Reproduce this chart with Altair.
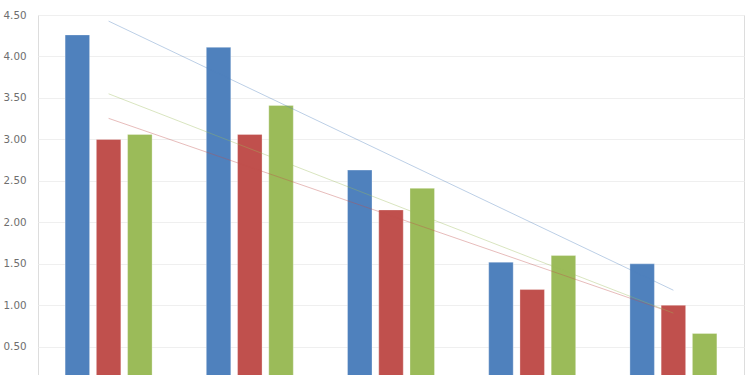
import altair as alt
import pandas as pd

categories = ["1", "2", "3", "4", "5"]
series_names = ["Series1", "Series2", "Series3"]
series1 = [4.26, 4.11, 2.63, 1.52, 1.50]
series2 = [3.00, 3.06, 2.15, 1.19, 1.00]
series3 = [3.06, 3.41, 2.41, 1.60, 0.66]
colors = ["#4F81BD", "#C0504D", "#9BBB59"]
y_ticks = [0.5, 1.0, 1.5, 2.0, 2.5, 3.0, 3.5, 4.0, 4.5]

rows = []
for name, vals in zip(series_names, [series1, series2, series3]):
    for i, (c, v) in enumerate(zip(categories, vals)):
        rows.append({"cat": c, "idx": i + 1, "series": name, "value": v})
df = pd.DataFrame(rows)

xscale = alt.Scale(domain=categories, paddingInner=0.384, paddingOuter=0.192)
yscale = alt.Scale(domain=[0.16, 4.5], zero=False, nice=False)
cscale = alt.Scale(domain=series_names, range=colors)

base = alt.Chart(df)

bars = base.mark_bar(clip=True, stroke="white", strokeWidth=0.6, strokeOpacity=0.5).encode(
    x=alt.X("cat:N", scale=xscale, axis=None, sort=categories),
    xOffset=alt.XOffset("series:N", scale=alt.Scale(domain=series_names, paddingInner=0.216, paddingOuter=0)),
    y=alt.Y("value:Q", scale=yscale,
            axis=alt.Axis(values=y_ticks, format=".2f", title=None, domain=False, ticks=False,
                          labelPadding=12, labelFont="DejaVu Sans", labelFontSize=10.3,
                          labelColor="#6e6e6e", gridColor="#efefef", gridWidth=1)),
    color=alt.Color("series:N", scale=cscale, legend=None),
)

trend = base.transform_regression(
    "idx", "value", groupby=["series"], method="linear"
).transform_calculate(
    cat="toString(datum.idx)"
).mark_line(strokeWidth=1, opacity=0.38, clip=True).encode(
    x=alt.X("cat:N", scale=xscale, axis=None, sort=categories),
    y=alt.Y("value:Q", scale=yscale),
    color=alt.Color("series:N", scale=cscale, legend=None),
)

chart = alt.layer(bars, trend).properties(
    width=706, height=360,
    autosize=alt.AutoSizeParams(type="none"),
    padding={"left": 38, "top": 15, "right": 6, "bottom": 0},
).configure_view(stroke=None).configure(background="white")

chart.save("out.html", embed_options={"renderer": "svg", "actions": False})
